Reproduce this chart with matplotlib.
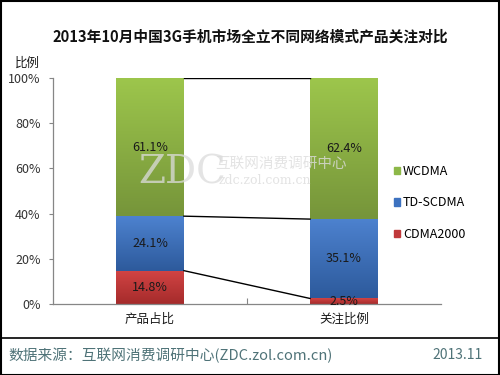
import matplotlib
matplotlib.use("Agg")
import matplotlib.pyplot as plt
import numpy as np
from matplotlib.colors import LinearSegmentedColormap
from matplotlib.patches import Rectangle
from matplotlib.lines import Line2D

plt.rcParams['font.family'] = ['Noto Sans CJK SC', 'DejaVu Sans']

categories = ['产品占比', '关注比例']
series_names = ['CDMA2000', 'TD-SCDMA', 'WCDMA']
cdma2000 = [14.8, 2.5]
td_scdma = [24.1, 35.1]
wcdma = [61.1, 62.4]
series_values = [cdma2000, td_scdma, wcdma]
y_ticks = [0, 20, 40, 60, 80, 100]
y_tick_labels = ['0%', '20%', '40%', '60%', '80%', '100%']

# (top colour, bottom colour)
grad = {
    'CDMA2000': ('#d24444', '#a52b2b'),
    'TD-SCDMA': ('#4d82cf', '#2d5a9c'),
    'WCDMA': ('#9dc64c', '#76953a'),
}
legend_colors = {'CDMA2000': '#c0393b', 'TD-SCDMA': '#3d72c0', 'WCDMA': '#8db848'}

fig = plt.figure(figsize=(5, 3.75), dpi=100)
ax = fig.add_axes([0.106, 0.189, 0.776, 0.603])

# watermark
fig.text(0.277, 0.540, 'ZDC', fontsize=28, color='#dcdcdc', family='DejaVu Serif', alpha=0.75,
         ha='left', va='center', zorder=1)
fig.text(0.43, 0.563, '互联网消费调研中心', fontsize=10.5, color='#dcdcdc', alpha=0.8,
         ha='left', va='center', zorder=1)
fig.text(0.437, 0.519, 'zdc.zol.com.cn', fontsize=9, color='#dcdcdc', alpha=0.8,
         family='DejaVu Serif', ha='left', va='center', zorder=1)

x = np.arange(len(categories))
width = 0.35
bottoms = np.zeros(len(categories))
boundaries = []
for name, vals in zip(series_names, series_values):
    bars = ax.bar(x, vals, width, bottom=bottoms, color='none', edgecolor='none', zorder=2)
    top_c, bot_c = grad[name]
    cmap = LinearSegmentedColormap.from_list(name, [bot_c, top_c])
    for b, v, bt in zip(bars, vals, bottoms):
        x0, y0 = b.get_x(), b.get_y()
        w, h = b.get_width(), b.get_height()
        g = np.linspace(0, 1, 100).reshape(-1, 1)
        im = ax.imshow(g, cmap=cmap, origin='lower', aspect='auto',
                       extent=[x0, x0 + w, y0, y0 + h], zorder=2, interpolation='bicubic')
        im.set_clip_path(b)
        ax.text(x0 + w / 2, y0 + h / 2, f'{v:.1f}%', ha='center', va='center',
                fontsize=9, color='#1a1a1a', zorder=4)
    bottoms = bottoms + np.array(vals)
    boundaries.append(bottoms.copy())

# connector lines between bars
for bnd in boundaries:
    ax.plot([x[0] + width / 2, x[1] - width / 2], [bnd[0], bnd[1]], color='black', lw=1.0, zorder=3)

ax.set_xlim(-0.5, 1.5)
ax.set_ylim(0, 100)
ax.patch.set_alpha(0)
ax.set_yticks(y_ticks)
ax.set_yticklabels(y_tick_labels, fontsize=9, color='#333333')
ax.tick_params(axis='y', length=3, color='#868686', pad=6)
ax.set_xticks([0.5])
ax.set_xticklabels([''])
ax.tick_params(axis='x', direction='in', length=4, color='#868686')
ax.set_xticks(x, minor=True)
ax.set_xticklabels(categories, minor=True, fontsize=9, color='#1a1a1a')
ax.tick_params(axis='x', which='minor', length=0, pad=6)
for s in ['top', 'right']:
    ax.spines[s].set_visible(False)
for s in ['left', 'bottom']:
    ax.spines[s].set_color('#868686')
    ax.spines[s].set_linewidth(0.9)

# y-axis label
fig.text(0.03, 0.832, '比例', fontsize=9, color='#1a1a1a', ha='left', va='center')

# title
fig.text(0.5, 0.902, '2013年10月中国3G手机市场全立不同网络模式产品关注对比', fontsize=10.6,
         fontweight='bold', ha='center', va='center', color='#111111')

# legend
handles = [Rectangle((0, 0), 1, 1, color=legend_colors[n]) for n in ['WCDMA', 'TD-SCDMA', 'CDMA2000']]
leg = fig.legend(handles, ['WCDMA', 'TD-SCDMA', 'CDMA2000'], loc='center left',
                 bbox_to_anchor=(0.765, 0.459), frameon=False, fontsize=9,
                 handlelength=0.5, handleheight=0.5, handletextpad=0.25, labelspacing=1.45)

# footer separator and text
fig.add_artist(Line2D([0, 1], [0.099, 0.099], transform=fig.transFigure, color='black', lw=1.2))
fig.text(0.016, 0.053, '数据来源：互联网消费调研中心(ZDC.zol.com.cn)', fontsize=10.6, color='#4f7378',
         ha='left', va='center')
fig.text(0.966, 0.053, '2013.11', fontsize=10, color='#4f7378', ha='right', va='center')

# outer border
fig.add_artist(Rectangle((0.001, 0.001), 0.997, 0.997, transform=fig.transFigure, fill=False,
                         edgecolor='black', lw=1.5))

fig.savefig('out.png', dpi=100)
